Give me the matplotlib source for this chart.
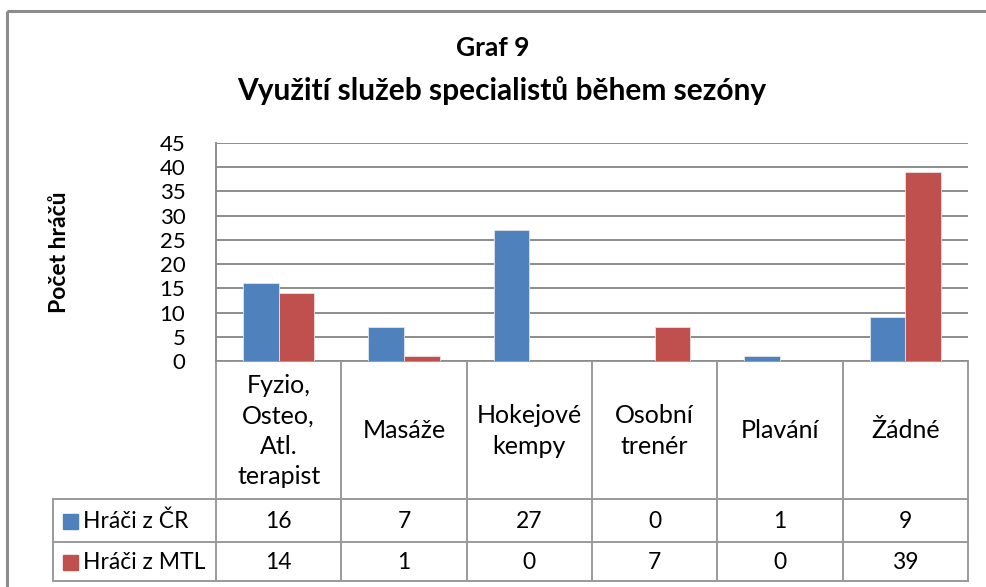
import matplotlib
matplotlib.use("Agg")
import matplotlib.pyplot as plt
from matplotlib.patches import Rectangle

categories = ["Fyzio,\nOsteo,\nAtl.\nterapist", "Masáže", "Hokejové\nkempy", "Osobní\ntrenér", "Plavání", "Žádné"]
series_names = ["Hráči z ČR", "Hráči z MTL"]
cr_values = [16, 7, 27, 0, 1, 9]
mtl_values = [14, 1, 0, 7, 0, 39]
yticks = [0, 5, 10, 15, 20, 25, 30, 35, 40, 45]
title_line1 = "Graf 9"
title_line2 = "Využití služeb specialistů během sezóny"
ylabel = "Počet hráčů"

colors = ["#4F81BD", "#C0504D"]
FONT = ["Lato", "DejaVu Sans"]
plt.rcParams["font.family"] = FONT

W, H = 986, 587
fig = plt.figure(figsize=(W / 100, H / 100), dpi=100)

# overlay axes in pixel coordinates
ov = fig.add_axes([0, 0, 1, 1])
ov.set_xlim(0, W)
ov.set_ylim(H, 0)
ov.axis("off")

# outer chart frame
ov.add_patch(Rectangle((7, 11), 1100, 700, fill=False, edgecolor="#8c8c8c", lw=2.2))

# plot area
x0, x1, ytop, ybot = 216, 968, 143, 361
ax = fig.add_axes([x0 / W, 1 - ybot / H, (x1 - x0) / W, (ybot - ytop) / H])
n = len(categories)
bw = 1 / 3.5
xs = list(range(n))
ax.bar([x - bw / 2 for x in xs], cr_values, width=bw, color=colors[0], edgecolor="#dfe6f0", lw=0.6, zorder=3)
ax.bar([x + bw / 2 for x in xs], mtl_values, width=bw, color=colors[1], edgecolor="#f0dede", lw=0.6, zorder=3)
ax.set_xlim(-0.5, n - 0.5)
ax.set_ylim(0, 45)
ax.set_yticks(yticks)
ax.set_yticklabels([str(t) for t in yticks], fontsize=16)
ax.set_xticks([])
ax.grid(axis="y", color="#8c8c8c", lw=1.4, zorder=0)
for s in ["top", "right", "bottom"]:
    ax.spines[s].set_visible(False)
ax.spines["left"].set_color("#8c8c8c")
ax.spines["left"].set_linewidth(1.4)
ax.tick_params(axis="y", length=0, pad=22, colors="black")
ax.set_facecolor("none")

# title
ov.text(493, 48, title_line1, ha="center", va="center", fontsize=19, fontweight="bold")
ov.text(502, 91, title_line2, ha="center", va="center", fontsize=21.5, fontweight="bold")

# y label
ov.text(59, 252, ylabel, rotation=90, ha="center", va="center", fontsize=16.5, fontweight="bold")

# data table
lc = "#9a9a9a"
lw = 1.4
colx = [x0 + (x1 - x0) * i / n for i in range(n + 1)]
r0, r1, r2, r3 = 361, 499, 542, 581
tx0 = 53
for x in colx:
    ov.plot([x, x], [r0, r3], color=lc, lw=lw)
ov.plot([x0, x1], [r0, r0], color=lc, lw=lw)
for y in (r1, r2, r3):
    ov.plot([tx0, x1], [y, y], color=lc, lw=lw)
ov.plot([tx0, tx0], [r1, r3], color=lc, lw=lw)

for i, cat in enumerate(categories):
    cx = (colx[i] + colx[i + 1]) / 2
    ov.text(cx, (r0 + r1) / 2 + 1, cat, ha="center", va="center", fontsize=18, linespacing=1.38)
    ov.text(cx, (r1 + r2) / 2 + 1, str(cr_values[i]), ha="center", va="center", fontsize=16.5)
    ov.text(cx, (r2 + r3) / 2 + 1, str(mtl_values[i]), ha="center", va="center", fontsize=16.5)

for j, (name, yy) in enumerate(zip(series_names, [(r1 + r2) / 2, (r2 + r3) / 2])):
    ov.add_patch(Rectangle((63, yy - 7), 15, 15, color=colors[j]))
    ov.text(83, yy + 1, name, ha="left", va="center", fontsize=16.5)

fig.savefig("out.png", dpi=100)
